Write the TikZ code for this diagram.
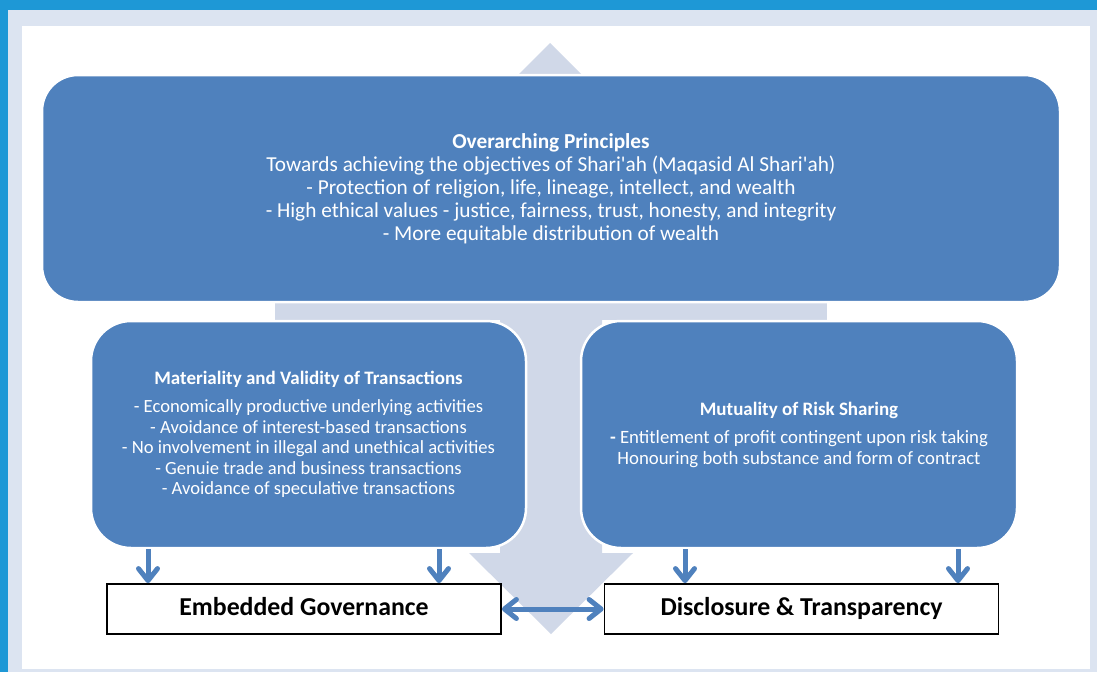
\documentclass[tikz,border=0pt]{standalone}
\usepackage{fontspec}
\setmainfont{Carlito}
\usetikzlibrary{arrows.meta}
\definecolor{boxblue}{HTML}{4F81BD}
\definecolor{shadec}{HTML}{D0D8E8}
\definecolor{framec}{HTML}{DCE4F1}
\definecolor{bgblue}{HTML}{1E98D6}
\newcommand{\aq}{\textquotesingle}
\tikzset{
  bluebox/.style={draw=white, line width=2.5pt, fill=boxblue, text=white, align=center, inner sep=0pt},
  labelbox/.style={draw=black, line width=1.8pt, fill=white, minimum width=394pt, minimum height=50pt, inner sep=0pt,
    text height=18pt, text depth=5pt, font=\bfseries\fontsize{25.8}{30}\selectfont},
  arr/.style={draw=boxblue, line width=5pt, -{Straight Barb[length=12pt,width=19pt,round]}},
  darr/.style={draw=boxblue, line width=5pt, {Straight Barb[length=12pt,width=19pt,round]}-{Straight Barb[length=12pt,width=19pt,round]}},
}
\begin{document}
\begin{tikzpicture}[x=1pt,y=-1pt]
\useasboundingbox (0,0) rectangle (1097,672);
% background frame
\fill[bgblue] (0,0) rectangle (1097,672);
\fill[framec] (8,10) rectangle (1097,672);
\fill[white] (22,26) rectangle (1090,669);
% light double arrow behind
\fill[shadec] (550,43) -- (632,125) -- (602,125) -- (602,553) -- (633,553) -- (551,634) -- (469,553) -- (500,553) -- (500,125) -- (468,125) -- cycle;
\fill[shadec] (275,300) rectangle (827,320);
% boxes
\node[bluebox, rounded corners=36pt, minimum width=1018pt, minimum height=227pt,
      font=\fontsize{21.3}{23}\selectfont] (top) at (551,188.5)
  {{\bfseries Overarching Principles}\\
   Towards achieving the objectives of Shari\aq ah (Maqasid Al Shari\aq ah)\\
   - Protection of religion, life, lineage, intellect, and wealth\\
   - High ethical values - justice, fairness, trust, honesty, and integrity\\
   - More equitable distribution of wealth};
\node[bluebox, rounded corners=40pt, minimum width=435pt, minimum height=227pt,
      font=\fontsize{18.6}{20.5}\selectfont] (lbox) at (308.5,434.5)
  {{\bfseries\fontsize{19}{20.5}\selectfont Materiality and Validity of Transactions}\\[8pt]
   - Economically productive underlying activities\\
   - Avoidance of interest-based transactions\\
   - No involvement in illegal and unethical activities\\
   - Genuie trade and business transactions\\
   - Avoidance of speculative transactions};
\node[bluebox, rounded corners=40pt, minimum width=436pt, minimum height=227pt,
      font=\fontsize{18.8}{20.5}\selectfont] (rbox) at (799,434.5)
  {{\bfseries\fontsize{19}{20.5}\selectfont Mutuality of Risk Sharing}\\[8pt]
   {\bfseries -} Entitlement of profit contingent upon risk taking\\
   Honouring both substance and form of contract};
% label boxes
\node[labelbox] (eg) at (304,609) {Embedded Governance};
\node[labelbox] (dt) at (801.5,609) {Disclosure \& Transparency};
% connectors
\coordinate (c1) at (148,0);
\coordinate (c2) at (439,0);
\coordinate (c3) at (685,0);
\coordinate (c4) at (958,0);
\draw[arr] (c1 |- lbox.south) -- (c1 |- eg.north);
\draw[arr] (c2 |- lbox.south) -- (c2 |- eg.north);
\draw[arr] (c3 |- rbox.south) -- (c3 |- dt.north);
\draw[arr] (c4 |- rbox.south) -- (c4 |- dt.north);
\draw[darr] (eg.east) -- (dt.west);
\end{tikzpicture}
\end{document}
